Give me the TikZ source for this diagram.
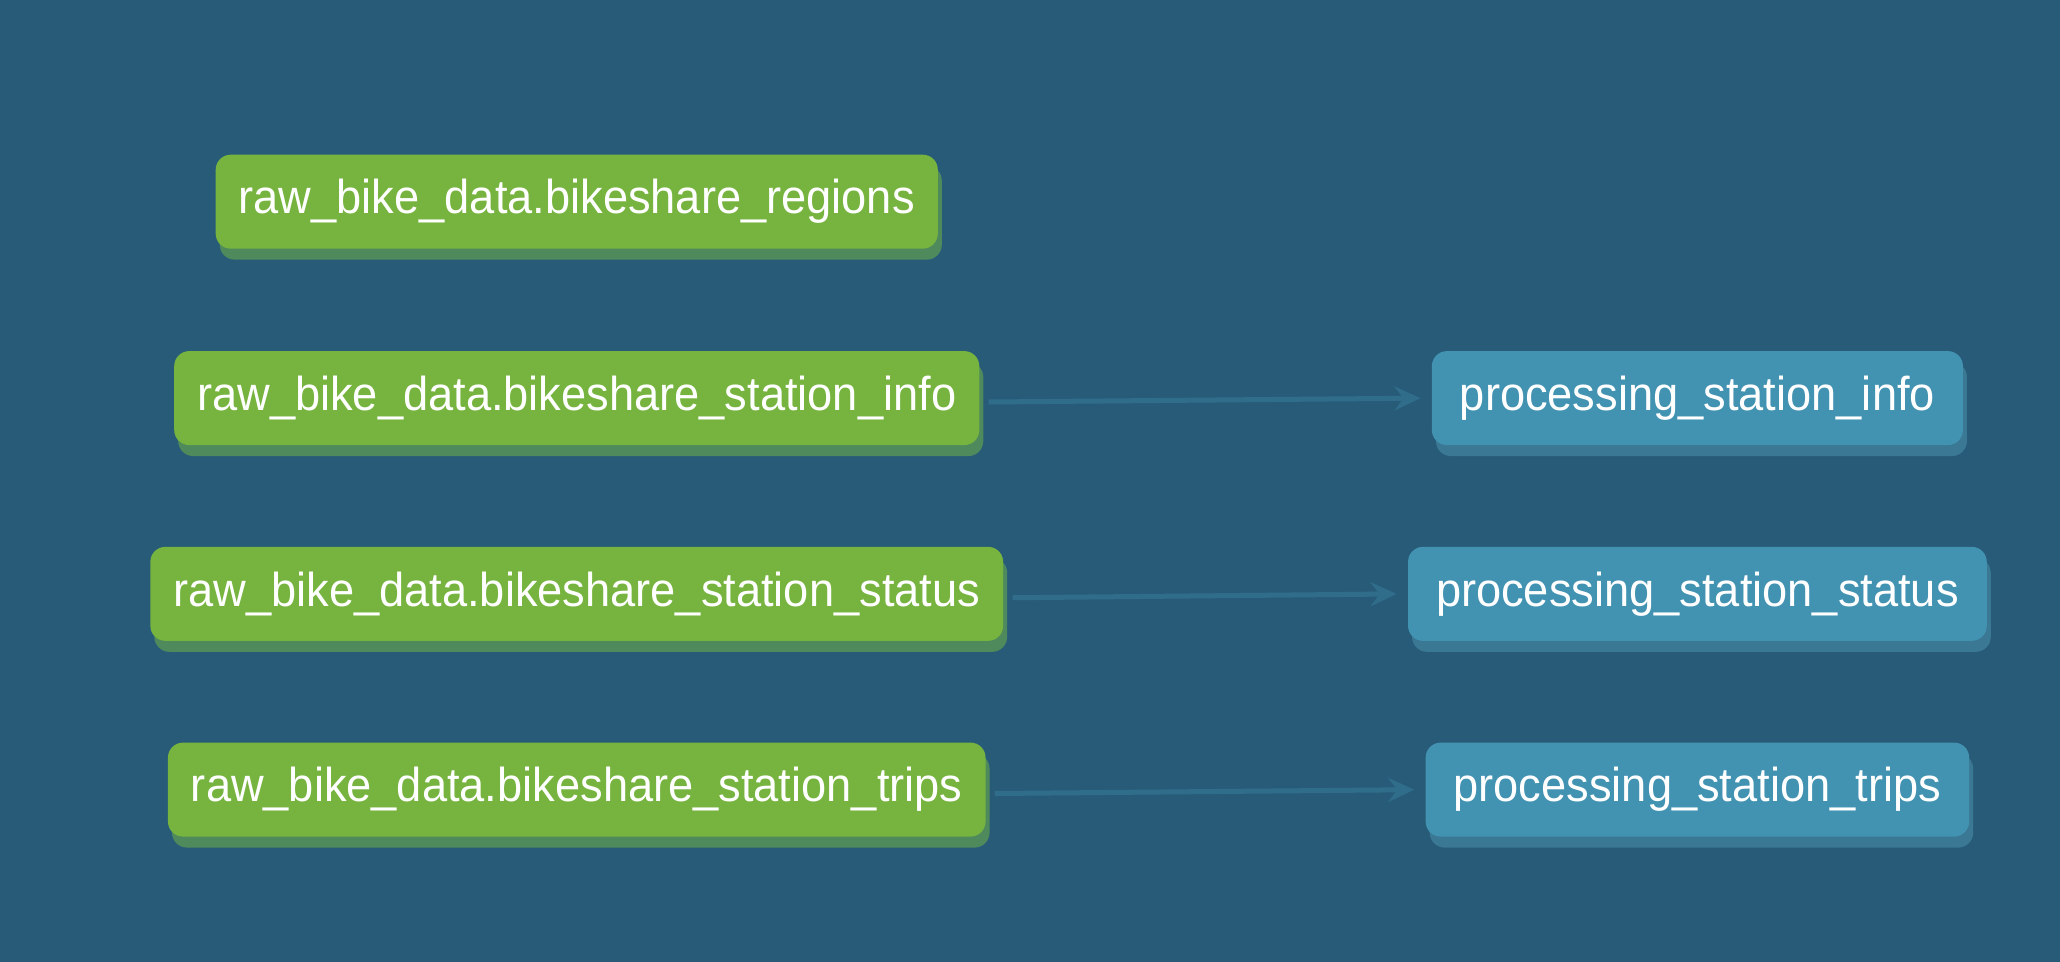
\documentclass[tikz,border=0pt]{standalone}
\usepackage{fontspec}
\setmainfont{Liberation Sans}
\newfontfamily\dagfont[FakeStretch=0.95]{Liberation Sans}
\usepackage{xcolor}
\usetikzlibrary{positioning,shadows,arrows.meta}
\definecolor{bg}{HTML}{285B78}
\definecolor{raw}{HTML}{76B43F}
\definecolor{rawshade}{HTML}{4F8A5C}
\definecolor{proc}{HTML}{4292B2}
\definecolor{procshade}{HTML}{3A7893}
\definecolor{link}{HTML}{306D8B}
\tikzset{
  model/.style={rounded corners=7.5pt, minimum height=47pt, inner xsep=11.5pt,
    text=white, font=\dagfont\fontsize{23.8}{27}\selectfont},
  rawnode/.style={model, fill=raw,
    drop shadow={shadow xshift=2pt, shadow yshift=-5.5pt, fill=rawshade, opacity=1}},
  procnode/.style={model, fill=proc, inner xsep=14pt,
    drop shadow={shadow xshift=2pt, shadow yshift=-5.5pt, fill=procshade, opacity=1}},
  flow/.style={draw=link, line width=2.5pt, -{Stealth[length=13pt,width=12pt,inset=4.5pt]},
    shorten <=4.5pt, shorten >=5.5pt},
}
\begin{document}
\begin{tikzpicture}[x=0.657pt,y=-0.657pt]
  \fill[bg] (0,0) rectangle (1568,732);
  \useasboundingbox (0,0) rectangle (1568,732);
  % sources
  \node[rawnode] (regions) at (439,153.5) {raw\_bike\_data.bikeshare\_regions};
  \node[rawnode] (info)    at (439,303) {raw\_bike\_data.bikeshare\_station\_info};
  \node[rawnode] (status)  at (439,452) {raw\_bike\_data.bikeshare\_station\_status};
  \node[rawnode] (trips)   at (439,601) {raw\_bike\_data.bikeshare\_station\_trips};
  % processing models
  \node[procnode] (pinfo)   at (1292,303) {processing\_station\_info};
  \node[procnode] (pstatus) at (1292,452) {processing\_station\_status};
  \node[procnode] (ptrips)  at (1292,601) {processing\_station\_trips};
  \draw[flow] ([yshift=-2pt]info.east) -- (pinfo.west);
  \draw[flow] ([yshift=-2pt]status.east) -- (pstatus.west);
  \draw[flow] ([yshift=-2pt]trips.east) -- (ptrips.west);
\end{tikzpicture}
\end{document}
